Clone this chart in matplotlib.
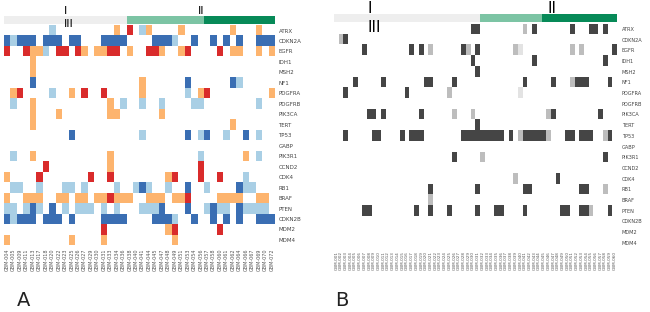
import numpy as np
import matplotlib.pyplot as plt
from matplotlib.colors import ListedColormap, BoundaryNorm

genes = ["ATRX", "CDKN2A", "EGFR", "IDH1", "MSH2", "NF1", "PDGFRA", "PDGFRB",
         "PIK3CA", "TERT", "TP53", "GABP", "PIK3R1", "CCND2", "CDK4", "RB1",
         "BRAF", "PTEN", "CDKN2B", "MDM2", "MDM4"]

# panel A: l = shallow deletion, b = deep deletion, o = gain, r = amplification
a_rows = [
    "...... .l.... .....o .r.lo. ...o.. .....o ...o..",  # ATRX
    "blbbb. bbb.bb ...bbb b....b bbl..b ..b.b. b..bbb",  # CDKN2A
    "r..roo l.rr.r o.oorr .o..rr o..or. ...r.o o..o.o",  # EGFR
    "....o. ...... ...... ...... ...... ...... ......",  # IDH1
    "....o. ...... ...... ...... ...... ...... ......",  # MSH2
    "....b. ...... ...... ...o.. ....b. .....b l.....",  # NF1
    ".or... .l..o. r..r.. ...o.. ....l. or.... .....o",  # PDGFRA
    ".l..o. ...... ....o. l..l.. l....l l..... ...l..",  # PDGFRB
    "....o. ..o... ....oo ...... o..... ...... ......",  # PIK3CA
    "....o. ...... ...... ...... ...... .....o ......",  # TERT
    "...... ....b. ...... ...l.. ....b. lb..l. .b.l..",  # TP53
    "...... ...... ...... ...... ...... ...... ......",  # GABP
    ".l..o. ...... ....o. ...... ...... l..... .o.l..",  # PIK3R1
    "...... r..... ....o. ...... ...... r..... ......",  # CCND2
    "o....r ...... .r..r. ...... .or... r..r.. .l....",  # CDK4
    ".ll..l ...ll. l....l ..lbl. .l..b. .l.... bll...",  # RB1
    "o..ooo ..oo.o o.ooro oo..oo o.oor. ...ooo o..oo.",  # BRAF
    "ll.lbl .b.l.l ll.l.l ...lll b...b. .lbll. bllll.",  # PTEN
    "blbbb. bbb.b. ...bbb b....b bbl..b ..b.b. b..bbb",  # CDKN2B
    "...... ...... ...r.. ...... .or... ...r.. ......",  # MDM2
    "o..... ....o. ...o.. ...... ..o... ...... ......",  # MDM4
]
a_samples = ["GBM-004", "GBM-005", "GBM-009", "GBM-011", "GBM-013", "GBM-017",
             "GBM-018", "GBM-020", "GBM-022", "GBM-023", "GBM-025", "GBM-026",
             "GBM-027", "GBM-029", "GBM-030", "GBM-031", "GBM-033", "GBM-034",
             "GBM-036", "GBM-038", "GBM-040", "GBM-041", "GBM-044", "GBM-045",
             "GBM-047", "GBM-048", "GBM-049", "GBM-051", "GBM-053", "GBM-054",
             "GBM-056", "GBM-057", "GBM-058", "GBM-060", "GBM-061", "GBM-062",
             "GBM-064", "GBM-066", "GBM-067", "GBM-069", "GBM-070", "GBM-072"]
a_group_sizes = [19, 12, 11]

# panel B: d = dark, g = grey, v = very light
b_rows = [
    "...... ...... ...... ...... .....d d..... ....g. d..... ..d... dd.d..",  # ATRX
    ".gd... ...... ...... ...... ...... ...... ...... ...... ...... ......",  # CDKN2A
    "...... d..... ....d. d.g... ...dg. d..... ..gv.. ...... ..g.g. .....d",  # EGFR
    "...... ...... ...... ...... .....d ...... ...... d..... ...... ...d..",  # IDH1
    "...... ...... ...... ...... ...... d..... ...... ...... ...... ......",  # MSH2
    "....d. ....d. ...... .dd... .d.... ...... ....d. ....d. ..gddd ....d.",  # NF1
    "..d... ...... ...d.. ...... g..... ...... ...v.. ...... ...... ......",  # PDGFRA
    "...... ...... ...... ...... ...... ...... ...... ...... ...... ......",  # PDGFRB
    "...... .dd.d. ...... d..... .g...g ...... ...... ...gd. ...... ..d...",  # PIK3CA
    "...... ...... ...... ...... ...... d..... ...... ...... ...... ......",  # TERT
    "..d... ..dd.. ..d.dd d..... ...ddd dddddd .d.gdd dddg.. .dd.dd d..gd.",  # TP53
    "...... ...... ...... ...... ...... ...... ...... ...... ...... ......",  # GABP
    "...... ...... ...... ...... .d.... .g.... ...... ...... ...... ...d..",  # PIK3R1
    "...... ...... ...... ...... ...... ...... ...... ...... ...... ......",  # CCND2
    "...... ...... ...... ...... ...... ...... ..g... .....d ...... ......",  # CDK4
    "...... ...... ...... ..d... ...... d..... ....dd ...... ....dd ...g..",  # RB1
    "...... ...... ...... ..g... ...... ...... ...... ...... ...... ......",  # BRAF
    "...... dd.... .....d ..d... d..... d...dd ....d. ...... dd..dd g...d.",  # PTEN
    "...... ...... ...... ...... ...... ...... ...... ...... ...... ......",  # CDKN2B
    "...... ...... ...... ...... ...... ...... ...... ...... ...... ......",  # MDM2
    "...... ...... ...... ...... ...... ...... ...... ...... ...... ......",  # MDM4
]
b_samples = ["GBM-001", "GBM-002", "GBM-003", "GBM-004", "GBM-005", "GBM-006",
             "GBM-007", "GBM-008", "GBM-009", "GBM-010", "GBM-011", "GBM-012",
             "GBM-013", "GBM-014", "GBM-015", "GBM-016", "GBM-017", "GBM-018",
             "GBM-019", "GBM-020", "GBM-021", "GBM-022", "GBM-023", "GBM-024",
             "GBM-025", "GBM-026", "GBM-027", "GBM-028", "GBM-029", "GBM-030",
             "GBM-031", "GBM-032", "GBM-033", "GBM-034", "GBM-035", "GBM-036",
             "GBM-037", "GBM-038", "GBM-039", "GBM-040", "GBM-041", "GBM-042",
             "GBM-043", "GBM-044", "GBM-045", "GBM-046", "GBM-047", "GBM-048",
             "GBM-049", "GBM-050", "GBM-051", "GBM-052", "GBM-053", "GBM-054",
             "GBM-055", "GBM-056", "GBM-057", "GBM-058", "GBM-059", "GBM-060"]
b_group_sizes = [31, 13, 16]

group_colors = ["#eeeeee", "#7cc4a4", "#078a58"]

W, H = 650, 312


def box(x0, y0, x1, y1):
    # pixel box -> figure fraction
    return [x0 / W, 1 - y1 / H, (x1 - x0) / W, (y1 - y0) / H]


def decode(rows, codes):
    return np.array([[codes[ch] for ch in r.replace(" ", "")] for r in rows], float)


def heatmap(ax, mat, colors, samples, sample_fs, gene_fs, pad):
    n = len(colors)
    cmap = ListedColormap(colors)
    norm = BoundaryNorm(np.arange(n + 1) + 0.5, n)
    ax.imshow(np.ma.masked_equal(mat, 0), cmap=cmap, norm=norm,
              aspect="auto", interpolation="nearest")
    ax.set_xticks(range(len(samples)))
    ax.set_xticklabels(samples, rotation=90, fontsize=sample_fs, color="#555555")
    ax.set_yticks(range(len(genes)))
    ax.set_yticklabels(genes, fontsize=gene_fs, color="#444444")
    ax.yaxis.tick_right()
    ax.tick_params(length=0, pad=pad)
    ax.tick_params(axis="x", pad=2.5)
    for s in ax.spines.values():
        s.set_visible(False)


def group_bar(ax, sizes, ncol):
    lefts = np.concatenate([[0], np.cumsum(sizes)[:-1]])
    ax.barh(0.5, sizes, left=lefts, height=1, color=group_colors)
    ax.set_xlim(0, ncol)
    ax.set_ylim(0, 1)
    ax.axis("off")


fig = plt.figure(figsize=(6.5, 3.12), dpi=100)

# panel A
a_mat = decode(a_rows, {".": 0, "l": 1, "b": 2, "o": 3, "r": 4})
ax_a = fig.add_axes(box(4, 25.3, 275, 245.2))
heatmap(ax_a, a_mat, ["#a9cfe5", "#3a6eb3", "#fdb46e", "#d92b2b"], a_samples, 3.5, 4.0, 2.5)
bar_a = fig.add_axes(box(4, 16, 275, 24))
group_bar(bar_a, a_group_sizes, len(a_samples))
bar_a.text(9.5, 1.6, "I", ha="center", va="center", fontsize=8, clip_on=False)
bar_a.text(10.1, -0.05, "III", ha="center", va="center", fontsize=8, clip_on=False)
bar_a.text(30.5, 1.6, "II", ha="center", va="center", fontsize=8, clip_on=False)

# panel B
b_mat = decode(b_rows, {".": 0, "v": 1, "g": 2, "d": 3})
ax_b = fig.add_axes(box(334, 23.7, 617, 248))
heatmap(ax_b, b_mat, ["#e3e3e3", "#bdbdbd", "#454545"], b_samples, 3.0, 3.6, 3.5)
bar_b = fig.add_axes(box(334, 14, 617, 22))
group_bar(bar_b, b_group_sizes, len(b_samples))
bar_b.text(7.5, 1.7, "I", ha="center", va="center", fontsize=11, clip_on=False)
bar_b.text(8.5, -0.7, "III", ha="center", va="center", fontsize=11, clip_on=False)
bar_b.text(46.3, 1.7, "II", ha="center", va="center", fontsize=11, clip_on=False)

fig.text(17 / W, 1 - 300 / H, "A", fontsize=14, va="center", ha="left", color="#222222")
fig.text(335 / W, 1 - 300 / H, "B", fontsize=14, va="center", ha="left", color="#222222")

fig.savefig("out.png", dpi=100)
